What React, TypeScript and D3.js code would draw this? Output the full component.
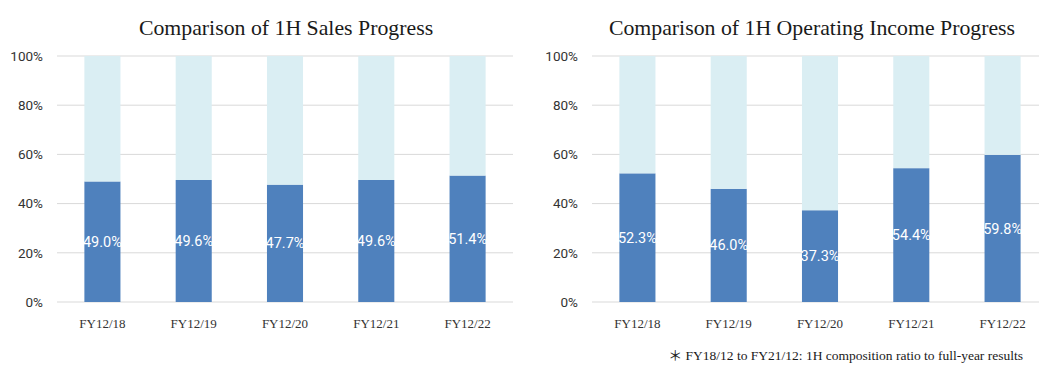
import React from "react";
import * as d3 from "d3";

const categories = ["FY12/18", "FY12/19", "FY12/20", "FY12/21", "FY12/22"];
const salesProgress = [49.0, 49.6, 47.7, 49.6, 51.4];
const incomeProgress = [52.3, 46.0, 37.3, 54.4, 59.8];
const yTicks = [0, 20, 40, 60, 80, 100];
const titles = ["Comparison of 1H Sales Progress", "Comparison of 1H Operating Income Progress"];
const footnoteMark = "＊";
const footnote = " FY18/12 to FY21/12: 1H composition ratio to full-year results";

const DARK = "#4F81BD";
const LIGHT = "#DAEEF3";
const GRID = "#D9D9D9";

type PanelProps = {
  values: number[];
  title: string;
  x0: number;
  x1: number;
  labelX: number;
  titleX: number;
};

function Panel({ values, title, x0, x1, labelX, titleX }: PanelProps) {
  const y = d3.scaleLinear().domain([0, 100]).range([302, 56]);
  const x = d3.scaleBand<string>().domain(categories).range([x0, x1]).paddingInner(0.605).paddingOuter(0.3);
  const stack = d3.stack<number>().keys(["h1", "rest"]).value((d, k) => (k === "h1" ? d : 100 - d));
  const series = stack(values);
  return (
    <g>
      <text x={titleX} y={35} textAnchor="middle" fontFamily="'Liberation Serif', 'Times New Roman', serif" fontSize={21.8} fill="#1a1a1a">
        {title}
      </text>
      {yTicks.map((t) => (
        <g key={t}>
          <line x1={x0} x2={x1} y1={y(t)} y2={y(t)} stroke={GRID} strokeWidth={1} />
          <text x={labelX} y={y(t)} dy="0.35em" textAnchor="end" fontFamily="Roboto, 'Liberation Sans', sans-serif" fontSize={13.5} fill="#333">
            {t}%
          </text>
        </g>
      ))}
      {series.map((s, si) =>
        s.map((d, i) => (
          <rect
            key={si + "-" + i}
            x={x(categories[i])}
            width={x.bandwidth()}
            y={y(d[1])}
            height={y(d[0]) - y(d[1])}
            fill={si === 0 ? DARK : LIGHT}
          />
        ))
      )}
      {values.map((v, i) => (
        <text
          key={"l" + i}
          x={(x(categories[i]) as number) + x.bandwidth() / 2}
          y={y(v / 2)}
          dy="0.35em"
          textAnchor="middle"
          fontFamily="Roboto, 'Liberation Sans', sans-serif"
          fontSize={14.5}
          fill="#ffffff"
        >
          {v.toFixed(1)}%
        </text>
      ))}
      {categories.map((c) => (
        <text
          key={c}
          x={(x(c) as number) + x.bandwidth() / 2}
          y={328}
          textAnchor="middle"
          fontFamily="'Liberation Serif', 'Times New Roman', serif"
          fontSize={13}
          fill="#333"
        >
          {c}
        </text>
      ))}
    </g>
  );
}

export default function App() {
  return (
    <svg width={1039} height={376} style={{ position: "absolute", left: 0, top: 0, background: "#fff" }}>
      <rect x={0} y={0} width={1039} height={376} fill="#fff" />
      <Panel values={salesProgress} title={titles[0]} x0={57} x1={513} labelX={43} titleX={286} />
      <Panel values={incomeProgress} title={titles[1]} x0={592} x1={1048} labelX={578} titleX={812} />
      <text x={1023} y={360} textAnchor="end" fontFamily="'Liberation Serif', 'Times New Roman', serif" fontSize={13.5} fill="#1a1a1a">
        <tspan fontFamily="'Noto Sans CJK JP', sans-serif" fontSize={14}>{footnoteMark}</tspan>
        {footnote}
      </text>
    </svg>
  );
}
